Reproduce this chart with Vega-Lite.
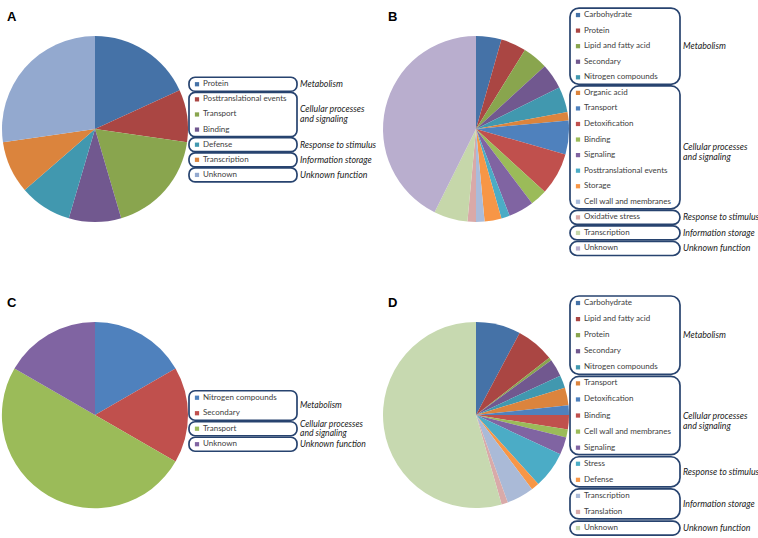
{
  "$schema": "https://vega.github.io/schema/vega-lite/v6.json",
  "padding": {"left": 2, "top": 4, "right": 0, "bottom": 0},
  "config": {"view": {"stroke": null}, "font": "Lato", "concat": {"spacing": 0}},
  "datasets": {
    "A": [
      {"order": 0, "cat": "Protein", "value": 2, "group": "Metabolism"},
      {"order": 1, "cat": "Posttranslational events", "value": 1, "group": "Cellular processes\nand signaling"},
      {"order": 2, "cat": "Transport", "value": 2, "group": "Cellular processes\nand signaling"},
      {"order": 3, "cat": "Binding", "value": 1, "group": "Cellular processes\nand signaling"},
      {"order": 4, "cat": "Defense", "value": 1, "group": "Response to stimulus"},
      {"order": 5, "cat": "Transcription", "value": 1, "group": "Information storage"},
      {"order": 6, "cat": "Unknown", "value": 3, "group": "Unknown function"}
    ],
    "B": [
      {"order": 0, "cat": "Carbohydrate", "value": 3, "group": "Metabolism"},
      {"order": 1, "cat": "Protein", "value": 3, "group": "Metabolism"},
      {"order": 2, "cat": "Lipid and fatty acid", "value": 3, "group": "Metabolism"},
      {"order": 3, "cat": "Secondary", "value": 3, "group": "Metabolism"},
      {"order": 4, "cat": "Nitrogen compounds", "value": 3, "group": "Metabolism"},
      {"order": 5, "cat": "Organic acid", "value": 1, "group": "Cellular processes\nand signaling"},
      {"order": 6, "cat": "Transport", "value": 4, "group": "Cellular processes\nand signaling"},
      {"order": 7, "cat": "Detoxification", "value": 5, "group": "Cellular processes\nand signaling"},
      {"order": 8, "cat": "Binding", "value": 2, "group": "Cellular processes\nand signaling"},
      {"order": 9, "cat": "Signaling", "value": 3, "group": "Cellular processes\nand signaling"},
      {"order": 10, "cat": "Posttranslational events", "value": 1, "group": "Cellular processes\nand signaling"},
      {"order": 11, "cat": "Storage", "value": 2, "group": "Cellular processes\nand signaling"},
      {"order": 12, "cat": "Cell wall and membranes", "value": 1, "group": "Cellular processes\nand signaling"},
      {"order": 13, "cat": "Oxidative stress", "value": 1, "group": "Response to stimulus"},
      {"order": 14, "cat": "Transcription", "value": 4, "group": "Information storage"},
      {"order": 15, "cat": "Unknown", "value": 29, "group": "Unknown function"}
    ],
    "C": [
      {"order": 0, "cat": "Nitrogen compounds", "value": 1, "group": "Metabolism"},
      {"order": 1, "cat": "Secondary", "value": 1, "group": "Metabolism"},
      {"order": 2, "cat": "Transport", "value": 3, "group": "Cellular processes\nand signaling"},
      {"order": 3, "cat": "Unknown", "value": 1, "group": "Unknown function"}
    ],
    "D": [
      {"order": 0, "cat": "Carbohydrate", "value": 28, "group": "Metabolism"},
      {"order": 1, "cat": "Lipid and fatty acid", "value": 24, "group": "Metabolism"},
      {"order": 2, "cat": "Protein", "value": 2, "group": "Metabolism"},
      {"order": 3, "cat": "Secondary", "value": 11, "group": "Metabolism"},
      {"order": 4, "cat": "Nitrogen compounds", "value": 8, "group": "Metabolism"},
      {"order": 5, "cat": "Transport", "value": 11, "group": "Cellular processes\nand signaling"},
      {"order": 6, "cat": "Detoxification", "value": 6, "group": "Cellular processes\nand signaling"},
      {"order": 7, "cat": "Binding", "value": 9, "group": "Cellular processes\nand signaling"},
      {"order": 8, "cat": "Cell wall and membranes", "value": 5, "group": "Cellular processes\nand signaling"},
      {"order": 9, "cat": "Signaling", "value": 11, "group": "Cellular processes\nand signaling"},
      {"order": 10, "cat": "Stress", "value": 23, "group": "Response to stimulus"},
      {"order": 11, "cat": "Defense", "value": 5, "group": "Response to stimulus"},
      {"order": 12, "cat": "Transcription", "value": 17, "group": "Information storage"},
      {"order": 13, "cat": "Translation", "value": 4, "group": "Information storage"},
      {"order": 14, "cat": "Unknown", "value": 196, "group": "Unknown function"}
    ]
  },
  "resolve": {"scale": {"color": "independent", "x": "independent", "y": "independent", "theta": "independent"}},
  "spacing": 30,
  "vconcat": [
    {
      "spacing": 0,
      "resolve": {"scale": {"color": "independent", "x": "independent", "y": "independent", "theta": "independent"}},
      "hconcat": [
        {
          "width": 186, "height": 250,
          "title": {"text": "A", "anchor": "start", "frame": "group", "orient": "top", "offset": -20, "baseline": "top", "dx": 5, "fontSize": 13, "fontWeight": "bold", "font": "Liberation Sans", "color": "#000000"},
          "data": {"name": "A"},
          "mark": {"type": "arc", "outerRadius": 93, "strokeWidth": 0},
          "encoding": {
            "theta": {"field": "value", "type": "quantitative", "stack": true},
            "order": {"field": "order", "type": "quantitative", "sort": "ascending"},
            "color": {"field": "cat", "type": "nominal", "legend": null, "scale": {"domain": ["Protein", "Posttranslational events", "Transport", "Binding", "Defense", "Transcription", "Unknown"], "range": ["#4572A7", "#AA4643", "#89A54E", "#71588F", "#4198AF", "#DB843D", "#93A9CF"]}}
          }
        },
        {
          "width": 194, "height": 256,
          "data": {"name": "A"},
          "layer": [
            {
              "transform": [{"aggregate": [{"op": "min", "field": "order", "as": "lo"}, {"op": "max", "field": "order", "as": "hi"}], "groupby": ["group"]}],
              "mark": {"type": "rect", "fill": "white", "fillOpacity": 0, "stroke": "#27436F", "strokeWidth": 1.7, "cornerRadius": 6, "yOffset": -7, "y2Offset": 7},
              "encoding": {
                "x": {"datum": "items", "type": "nominal", "axis": null, "scale": {"type": "band", "domain": ["items", "group"], "range": [0, 216], "paddingInner": 0, "paddingOuter": 0}},
                "y": {"field": "lo", "type": "quantitative", "axis": null, "scale": {"domain": [-5.31, 11.63], "reverse": true, "nice": false, "zero": false}},
                "y2": {"field": "hi"}
              }
            },
            {
              "transform": [{"aggregate": [{"op": "mean", "field": "order", "as": "mid"}], "groupby": ["group"]}, {"filter": {"not": {"field": "group", "equal": "Cellular processes\nand signaling"}}}],
              "mark": {"type": "text", "align": "left", "baseline": "middle", "fontStyle": "italic", "fontSize": 8.8, "lineBreak": "\n", "lineHeight": 10, "color": "#222222", "xOffset": 3},
              "encoding": {
                "x": {"datum": "group", "type": "nominal", "bandPosition": 0},
                "y": {"field": "mid", "type": "quantitative"},
                "text": {"field": "group", "type": "nominal"}
              }
            },
            {
              "transform": [{"aggregate": [{"op": "mean", "field": "order", "as": "mid"}], "groupby": ["group"]}, {"filter": {"field": "group", "equal": "Cellular processes\nand signaling"}}],
              "mark": {"type": "text", "align": "left", "baseline": "middle", "fontStyle": "italic", "fontSize": 8.8, "lineBreak": "\n", "lineHeight": 10, "color": "#222222", "xOffset": 3, "yOffset": -5},
              "encoding": {
                "x": {"datum": "group", "type": "nominal", "bandPosition": 0},
                "y": {"field": "mid", "type": "quantitative"},
                "text": {"field": "group", "type": "nominal"}
              }
            },
            {
              "mark": {"type": "square", "size": 18, "filled": true, "opacity": 1, "xOffset": 8},
              "encoding": {
                "x": {"datum": "items", "type": "nominal", "bandPosition": 0},
                "y": {"field": "order", "type": "quantitative"},
                "color": {"field": "cat", "type": "nominal", "legend": null, "scale": {"domain": ["Protein", "Posttranslational events", "Transport", "Binding", "Defense", "Transcription", "Unknown"], "range": ["#4572A7", "#AA4643", "#89A54E", "#71588F", "#4198AF", "#DB843D", "#93A9CF"]}}
              }
            },
            {
              "mark": {"type": "text", "align": "left", "baseline": "middle", "fontSize": 8, "color": "#404040", "xOffset": 14},
              "encoding": {
                "x": {"datum": "items", "type": "nominal", "bandPosition": 0},
                "y": {"field": "order", "type": "quantitative"},
                "text": {"field": "cat", "type": "nominal"}
              }
            }
          ]
        },
        {
          "width": 186, "height": 250,
          "title": {"text": "B", "anchor": "start", "frame": "group", "orient": "top", "offset": -20, "baseline": "top", "dx": 5, "fontSize": 13, "fontWeight": "bold", "font": "Liberation Sans", "color": "#000000"},
          "data": {"name": "B"},
          "mark": {"type": "arc", "outerRadius": 93, "strokeWidth": 0},
          "encoding": {
            "theta": {"field": "value", "type": "quantitative", "stack": true},
            "order": {"field": "order", "type": "quantitative", "sort": "ascending"},
            "color": {"field": "cat", "type": "nominal", "legend": null, "scale": {"domain": ["Carbohydrate", "Protein", "Lipid and fatty acid", "Secondary", "Nitrogen compounds", "Organic acid", "Transport", "Detoxification", "Binding", "Signaling", "Posttranslational events", "Storage", "Cell wall and membranes", "Oxidative stress", "Transcription", "Unknown"], "range": ["#4572A7", "#AA4643", "#89A54E", "#71588F", "#4198AF", "#DB843D", "#4F81BD", "#C0504D", "#9BBB59", "#8064A2", "#4BACC6", "#F79646", "#A9BCDB", "#D9A9A8", "#C6D7AA", "#B9AECE"]}}
          }
        },
        {
          "width": 190, "height": 256,
          "data": {"name": "B"},
          "layer": [
            {
              "transform": [{"aggregate": [{"op": "min", "field": "order", "as": "lo"}, {"op": "max", "field": "order", "as": "hi"}], "groupby": ["group"]}],
              "mark": {"type": "rect", "fill": "white", "fillOpacity": 0, "stroke": "#27436F", "strokeWidth": 1.7, "cornerRadius": 9, "yOffset": -7, "y2Offset": 7},
              "encoding": {
                "x": {"datum": "items", "type": "nominal", "axis": null, "scale": {"type": "band", "domain": ["items", "group"], "range": [0, 220], "paddingInner": 0, "paddingOuter": 0}},
                "y": {"field": "lo", "type": "quantitative", "axis": null, "scale": {"domain": [-0.71, 15.74], "reverse": true, "nice": false, "zero": false}},
                "y2": {"field": "hi"}
              }
            },
            {
              "transform": [{"aggregate": [{"op": "mean", "field": "order", "as": "mid"}], "groupby": ["group"]}],
              "mark": {"type": "text", "align": "left", "baseline": "middle", "fontStyle": "italic", "fontSize": 8.8, "lineBreak": "\n", "lineHeight": 10, "color": "#222222", "xOffset": 3},
              "encoding": {
                "x": {"datum": "group", "type": "nominal", "bandPosition": 0},
                "y": {"field": "mid", "type": "quantitative"},
                "text": {"field": "group", "type": "nominal"}
              }
            },
            {
              "mark": {"type": "square", "size": 18, "filled": true, "opacity": 1, "xOffset": 8},
              "encoding": {
                "x": {"datum": "items", "type": "nominal", "bandPosition": 0},
                "y": {"field": "order", "type": "quantitative"},
                "color": {"field": "cat", "type": "nominal", "legend": null, "scale": {"domain": ["Carbohydrate", "Protein", "Lipid and fatty acid", "Secondary", "Nitrogen compounds", "Organic acid", "Transport", "Detoxification", "Binding", "Signaling", "Posttranslational events", "Storage", "Cell wall and membranes", "Oxidative stress", "Transcription", "Unknown"], "range": ["#4572A7", "#AA4643", "#89A54E", "#71588F", "#4198AF", "#DB843D", "#4F81BD", "#C0504D", "#9BBB59", "#8064A2", "#4BACC6", "#F79646", "#A9BCDB", "#D9A9A8", "#C6D7AA", "#B9AECE"]}}
              }
            },
            {
              "mark": {"type": "text", "align": "left", "baseline": "middle", "fontSize": 8, "color": "#404040", "xOffset": 14},
              "encoding": {
                "x": {"datum": "items", "type": "nominal", "bandPosition": 0},
                "y": {"field": "order", "type": "quantitative"},
                "text": {"field": "cat", "type": "nominal"}
              }
            }
          ]
        }
      ]
    },
    {
      "spacing": 0,
      "resolve": {"scale": {"color": "independent", "x": "independent", "y": "independent", "theta": "independent"}},
      "hconcat": [
        {
          "width": 186, "height": 250,
          "title": {"text": "C", "anchor": "start", "frame": "group", "orient": "top", "offset": -20, "baseline": "top", "dx": 5, "fontSize": 13, "fontWeight": "bold", "font": "Liberation Sans", "color": "#000000"},
          "data": {"name": "C"},
          "mark": {"type": "arc", "outerRadius": 93, "strokeWidth": 0},
          "encoding": {
            "theta": {"field": "value", "type": "quantitative", "stack": true},
            "order": {"field": "order", "type": "quantitative", "sort": "ascending"},
            "color": {"field": "cat", "type": "nominal", "legend": null, "scale": {"domain": ["Nitrogen compounds", "Secondary", "Transport", "Unknown"], "range": ["#4F81BD", "#C0504D", "#9BBB59", "#8064A2"]}}
          }
        },
        {
          "width": 194, "height": 248,
          "data": {"name": "C"},
          "layer": [
            {
              "transform": [{"aggregate": [{"op": "min", "field": "order", "as": "lo"}, {"op": "max", "field": "order", "as": "hi"}], "groupby": ["group"]}],
              "mark": {"type": "rect", "fill": "white", "fillOpacity": 0, "stroke": "#27436F", "strokeWidth": 1.7, "cornerRadius": 6, "yOffset": -7, "y2Offset": 7},
              "encoding": {
                "x": {"datum": "items", "type": "nominal", "axis": null, "scale": {"type": "band", "domain": ["items", "group"], "range": [0, 216], "paddingInner": 0, "paddingOuter": 0}},
                "y": {"field": "lo", "type": "quantitative", "axis": null, "scale": {"domain": [-6.95, 9.05], "reverse": true, "nice": false, "zero": false}},
                "y2": {"field": "hi"}
              }
            },
            {
              "transform": [{"aggregate": [{"op": "mean", "field": "order", "as": "mid"}], "groupby": ["group"]}, {"filter": {"not": {"field": "group", "equal": "Cellular processes\nand signaling"}}}],
              "mark": {"type": "text", "align": "left", "baseline": "middle", "fontStyle": "italic", "fontSize": 8.6, "lineBreak": "\n", "lineHeight": 9, "color": "#222222", "xOffset": 3},
              "encoding": {
                "x": {"datum": "group", "type": "nominal", "bandPosition": 0},
                "y": {"field": "mid", "type": "quantitative"},
                "text": {"field": "group", "type": "nominal"}
              }
            },
            {
              "transform": [{"aggregate": [{"op": "mean", "field": "order", "as": "mid"}], "groupby": ["group"]}, {"filter": {"field": "group", "equal": "Cellular processes\nand signaling"}}],
              "mark": {"type": "text", "align": "left", "baseline": "middle", "fontStyle": "italic", "fontSize": 8.6, "lineBreak": "\n", "lineHeight": 9, "color": "#222222", "xOffset": 3, "yOffset": -5},
              "encoding": {
                "x": {"datum": "group", "type": "nominal", "bandPosition": 0},
                "y": {"field": "mid", "type": "quantitative"},
                "text": {"field": "group", "type": "nominal"}
              }
            },
            {
              "mark": {"type": "square", "size": 18, "filled": true, "opacity": 1, "xOffset": 8},
              "encoding": {
                "x": {"datum": "items", "type": "nominal", "bandPosition": 0},
                "y": {"field": "order", "type": "quantitative"},
                "color": {"field": "cat", "type": "nominal", "legend": null, "scale": {"domain": ["Nitrogen compounds", "Secondary", "Transport", "Unknown"], "range": ["#4F81BD", "#C0504D", "#9BBB59", "#8064A2"]}}
              }
            },
            {
              "mark": {"type": "text", "align": "left", "baseline": "middle", "fontSize": 8, "color": "#404040", "xOffset": 14},
              "encoding": {
                "x": {"datum": "items", "type": "nominal", "bandPosition": 0},
                "y": {"field": "order", "type": "quantitative"},
                "text": {"field": "cat", "type": "nominal"}
              }
            }
          ]
        },
        {
          "width": 186, "height": 250,
          "title": {"text": "D", "anchor": "start", "frame": "group", "orient": "top", "offset": -20, "baseline": "top", "dx": 5, "fontSize": 13, "fontWeight": "bold", "font": "Liberation Sans", "color": "#000000"},
          "data": {"name": "D"},
          "mark": {"type": "arc", "outerRadius": 93, "strokeWidth": 0},
          "encoding": {
            "theta": {"field": "value", "type": "quantitative", "stack": true},
            "order": {"field": "order", "type": "quantitative", "sort": "ascending"},
            "color": {"field": "cat", "type": "nominal", "legend": null, "scale": {"domain": ["Carbohydrate", "Lipid and fatty acid", "Protein", "Secondary", "Nitrogen compounds", "Transport", "Detoxification", "Binding", "Cell wall and membranes", "Signaling", "Stress", "Defense", "Transcription", "Translation", "Unknown"], "range": ["#4572A7", "#AA4643", "#89A54E", "#71588F", "#4198AF", "#DB843D", "#4F81BD", "#C0504D", "#9BBB59", "#8064A2", "#4BACC6", "#F79646", "#AABAD7", "#D9AAA9", "#C7D9B0"]}}
          }
        },
        {
          "width": 190, "height": 248,
          "data": {"name": "D"},
          "layer": [
            {
              "transform": [{"aggregate": [{"op": "min", "field": "order", "as": "lo"}, {"op": "max", "field": "order", "as": "hi"}], "groupby": ["group"]}],
              "mark": {"type": "rect", "fill": "white", "fillOpacity": 0, "stroke": "#27436F", "strokeWidth": 1.7, "cornerRadius": 9, "yOffset": -7, "y2Offset": 7},
              "encoding": {
                "x": {"datum": "items", "type": "nominal", "axis": null, "scale": {"type": "band", "domain": ["items", "group"], "range": [0, 220], "paddingInner": 0, "paddingOuter": 0}},
                "y": {"field": "lo", "type": "quantitative", "axis": null, "scale": {"domain": [-0.81, 14.62], "reverse": true, "nice": false, "zero": false}},
                "y2": {"field": "hi"}
              }
            },
            {
              "transform": [{"aggregate": [{"op": "mean", "field": "order", "as": "mid"}], "groupby": ["group"]}],
              "mark": {"type": "text", "align": "left", "baseline": "middle", "fontStyle": "italic", "fontSize": 8.8, "lineBreak": "\n", "lineHeight": 10, "color": "#222222", "xOffset": 3},
              "encoding": {
                "x": {"datum": "group", "type": "nominal", "bandPosition": 0},
                "y": {"field": "mid", "type": "quantitative"},
                "text": {"field": "group", "type": "nominal"}
              }
            },
            {
              "mark": {"type": "square", "size": 18, "filled": true, "opacity": 1, "xOffset": 8},
              "encoding": {
                "x": {"datum": "items", "type": "nominal", "bandPosition": 0},
                "y": {"field": "order", "type": "quantitative"},
                "color": {"field": "cat", "type": "nominal", "legend": null, "scale": {"domain": ["Carbohydrate", "Lipid and fatty acid", "Protein", "Secondary", "Nitrogen compounds", "Transport", "Detoxification", "Binding", "Cell wall and membranes", "Signaling", "Stress", "Defense", "Transcription", "Translation", "Unknown"], "range": ["#4572A7", "#AA4643", "#89A54E", "#71588F", "#4198AF", "#DB843D", "#4F81BD", "#C0504D", "#9BBB59", "#8064A2", "#4BACC6", "#F79646", "#AABAD7", "#D9AAA9", "#C7D9B0"]}}
              }
            },
            {
              "mark": {"type": "text", "align": "left", "baseline": "middle", "fontSize": 8, "color": "#404040", "xOffset": 14},
              "encoding": {
                "x": {"datum": "items", "type": "nominal", "bandPosition": 0},
                "y": {"field": "order", "type": "quantitative"},
                "text": {"field": "cat", "type": "nominal"}
              }
            }
          ]
        }
      ]
    }
  ]
}
